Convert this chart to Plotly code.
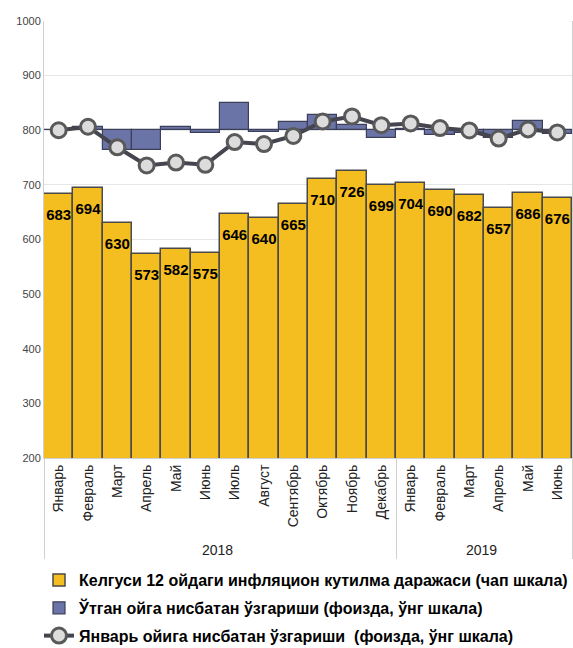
import plotly.graph_objects as go

years = ["2018"] * 12 + ["2019"] * 6
months = [
    "Январь", "Февраль", "Март", "Апрель", "Май", "Июнь",
    "Июль", "Август", "Сентябрь", "Октябрь", "Ноябрь", "Декабрь",
    "Январь", "Февраль", "Март", "Апрель", "Май", "Июнь",
]

# inflation expectations, left scale
expect = [683, 694, 630, 573, 582, 575, 646, 640, 665, 710, 726, 699,
          704, 690, 682, 657, 686, 676]
# change vs previous month, %, right scale
mom = [0.0, 1.6, -9.2, -9.0, 1.6, -1.2, 12.3, -0.9, 3.9, 6.8, 2.3, -3.7,
       0.7, -2.0, -1.2, -3.7, 4.4, -1.5]
# change vs January, %, right scale
vs_jan = [0.0, 1.6, -7.8, -16.1, -14.8, -15.8, -5.4, -6.3, -2.6, 4.0, 6.3, 2.3,
          3.1, 1.0, -0.1, -3.8, 0.4, -1.0]

FONT = "Liberation Sans, Arial, sans-serif"
x = [years, months]

fig = go.Figure()
fig.add_trace(go.Bar(
    x=x, y=expect, name="Келгуси 12 ойдаги инфляцион кутилма даражаси (чап шкала)",
    marker=dict(color="#F5BE20", line=dict(color="#4a4a4a", width=1.5)),
    width=1, yaxis="y", legendgroup="a",
))
# value labels inside the top of each yellow bar (transparent marker pushes text down)
fig.add_trace(go.Scatter(
    x=x, y=expect, mode="markers+text", text=[str(v) for v in expect],
    textposition="bottom center",
    marker=dict(size=22, color="rgba(0,0,0,0)"),
    textfont=dict(family=FONT, size=15, color="black", weight="bold"),
    showlegend=False, hoverinfo="skip", yaxis="y",
))
fig.add_trace(go.Bar(
    x=x, y=mom, name="Ўтган ойга нисбатан ўзгариши (фоизда, ўнг шкала)",
    marker=dict(color="#6B74A6", line=dict(color="#3c3f5a", width=1.2)),
    width=1, yaxis="y2", legendgroup="b",
))
fig.add_trace(go.Scatter(
    x=x, y=vs_jan, name="Январь ойига нисбатан ўзгариши  (фоизда, ўнг шкала)",
    mode="lines+markers",
    line=dict(color="#44454f", width=4),
    marker=dict(size=15, color="#dcdcdc", line=dict(color="#595959", width=3)),
    yaxis="y2", legendgroup="c",
))

fig.update_layout(
    width=573, height=648,
    margin=dict(l=44, r=1, t=21, b=190),
    paper_bgcolor="white", plot_bgcolor="white",
    barmode="overlay", bargap=0,
    font=dict(family=FONT, size=12, color="#222"),
    showlegend=True,
    legend=dict(
        orientation="v", x=-0.005, xanchor="left",
        yref="container", y=0.131, yanchor="top",
        font=dict(family=FONT, size=16, color="black", weight="bold"),
        tracegroupgap=4, itemwidth=30,
    ),
    xaxis=dict(
        type="multicategory", tickangle=-90, range=[-0.5, 17.5], automargin=False,
        showline=True, linecolor="#d0d0d0", linewidth=1,
        showdividers=True, dividercolor="#d0d0d0", dividerwidth=1,
        ticks="", tickfont=dict(family=FONT, size=14, color="#222"),
    ),
    yaxis=dict(
        range=[200, 1000], dtick=100, showgrid=True, gridcolor="#e6e6e6",
        showline=True, linecolor="#d0d0d0", ticks="", automargin=False,
        tickfont=dict(family=FONT, size=11, color="#444"),
    ),
    yaxis2=dict(
        range=[-150, 50], overlaying="y", side="right", automargin=False,
        showgrid=False, showticklabels=False, zeroline=False,
        showline=True, linecolor="#d0d0d0",
    ),
)

# drop the default page margin so the 573x648 figure fills the window exactly
fig.write_html(
    "out.html",
    config={"displayModeBar": False},
    post_script="document.body.style.margin='0';document.body.style.overflow='hidden';",
)
